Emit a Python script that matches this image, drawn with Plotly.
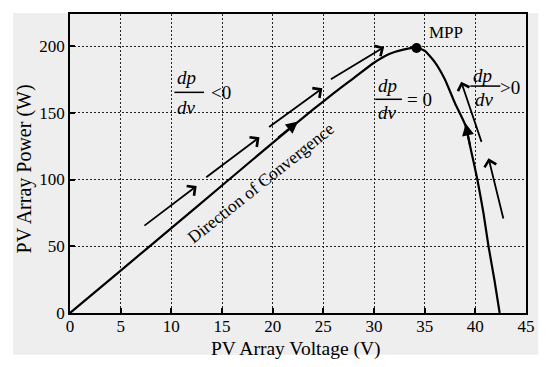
import plotly.graph_objects as go

# ---- data ----
voltage = [0, 5, 10, 15, 20, 24, 26, 28, 30, 31.5, 33, 34.2, 35, 36, 37, 38, 39.0, 39.6, 40.2, 40.8, 41.3, 41.9, 42.4]
power = [0, 31.8, 63.6, 95.5, 127.5, 152.5, 164.5, 176, 187.5, 194, 197.5, 198.5, 196.5, 188, 175, 157, 141, 121, 100, 75, 50, 24, 0]
mpp_v = [34.2]
mpp_p = [198.5]
x_ticks = [0, 5, 10, 15, 20, 25, 30, 35, 40, 45]
y_ticks = [0, 50, 100, 150, 200]

# convergence arrows (tail -> head) in data units
arrow_tails = [(7.2, 64.6), (13.3, 100.9), (19.5, 138.5), (25.6, 174.5), (40.66, 127.1), (42.8, 69.7)]
arrow_heads = [(12.5, 95.1), (18.7, 131.6), (24.9, 168.3), (31.0, 199.3), (38.6, 173.3), (41.3, 116.0)]
# arrowheads sitting on the curve
curve_tails = [(20.4, 130.5), (39.5, 124.5)]
curve_heads = [(22.5, 143.5), (39.05, 142.0)]

FONT = "Liberation Serif, Times New Roman, serif"
GRAY = "#eeeeee"

fig = go.Figure()
fig.add_trace(go.Scatter(x=voltage, y=power, mode="lines",
                         line=dict(color="black", width=2.2, shape="spline", smoothing=0.5),
                         hoverinfo="skip", showlegend=False))
fig.add_trace(go.Scatter(x=mpp_v, y=mpp_p, mode="markers",
                         marker=dict(color="black", size=10), showlegend=False))

annotations = []
for (tx, ty), (hx, hy) in zip(arrow_tails, arrow_heads):
    annotations.append(dict(x=hx, y=hy, ax=tx, ay=ty, xref="x", yref="y", axref="x", ayref="y",
                            showarrow=True, arrowhead=4, arrowsize=1.3, arrowwidth=1.8,
                            arrowcolor="black", text=""))
for (tx, ty), (hx, hy) in zip(curve_tails, curve_heads):
    annotations.append(dict(x=hx, y=hy, ax=tx, ay=ty, xref="x", yref="y", axref="x", ayref="y",
                            showarrow=True, arrowhead=2, arrowsize=1.2, arrowwidth=2,
                            arrowcolor="black", text=""))

def txt(x, y, s, size=17, italic=False, xanchor="center", angle=0):
    if italic:
        s = "<i>" + s + "</i>"
    annotations.append(dict(x=x, y=y, xref="x", yref="y", text=s, showarrow=False,
                            xanchor=xanchor, yanchor="middle", textangle=angle,
                            font=dict(family=FONT, size=size, color="black")))

# fraction dp/dv < 0
txt(11.5, 176.8, "dp", 19, True)
txt(11.5, 154.3, "dv", 19, True)
txt(14.9, 165.5, "&lt;0", 19)
# fraction dp/dv = 0
txt(31.35, 170.8, "dp", 19, True)
txt(31.35, 150.2, "dv", 19, True)
txt(34.5, 160.3, "= 0", 19)
# fraction dp/dv > 0
txt(40.7, 178.3, "dp", 19, True)
txt(40.9, 159.6, "dv", 19, True)
txt(43.45, 169.0, "&gt;0", 19)
# labels
txt(35.2, 210.0, "MPP", 17, xanchor="left")
txt(18.8, 97.5, "Direction of Convergence", 17.5, angle=-38.6)

# axis titles
annotations.append(dict(x=0.496, y=-0.12, xref="paper", yref="paper", text="PV Array Voltage (V)",
                        showarrow=False, xanchor="center", yanchor="middle",
                        font=dict(family=FONT, size=19.5, color="black")))
annotations.append(dict(x=-0.099, y=0.483, xref="paper", yref="paper", text="PV Array Power (W)",
                        showarrow=False, xanchor="center", yanchor="middle", textangle=-90,
                        font=dict(family=FONT, size=20, color="black")))

fig.update_layout(annotations=annotations)

shapes = [
    dict(type="rect", xref="paper", yref="paper", x0=-0.125, x1=1.027, y0=-0.14, y1=1.003,
         fillcolor=GRAY, line=dict(width=0), layer="below"),
]
for (x0, x1, y) in [(10.3, 13.23, 165.3), (30.12, 32.76, 160.1), (39.5, 42.47, 170.0)]:
    shapes.append(dict(type="line", xref="x", yref="y", x0=x0, x1=x1, y0=y, y1=y,
                       line=dict(color="black", width=1.5)))
fig.update_layout(shapes=shapes)

axis_common = dict(showline=True, linecolor="black", linewidth=1.6, mirror=True,
                   ticks="inside", ticklen=5, tickcolor="black", tickwidth=1.5,
                   showgrid=True, gridcolor="#222222", gridwidth=1.4, griddash="2px,2px",
                   zeroline=False, automargin=False,
                   tickfont=dict(family=FONT, size=17, color="black"))

fig.update_xaxes(range=[0, 45], tickvals=x_ticks, ticktext=[str(v) for v in x_ticks],
                 ticklabelstandoff=-3, **axis_common)
fig.update_yaxes(range=[0, 224], tickvals=y_ticks, ticktext=[str(v) for v in y_ticks],
                 **axis_common)

# page body has an 8px margin, so shift the plot area up/left by 8px
fig.update_layout(width=550, height=367,
                  margin=dict(l=62, r=32, t=6, b=62, pad=0),
                  paper_bgcolor="white", plot_bgcolor=GRAY,
                  showlegend=False)

fig.write_html("out.html")
